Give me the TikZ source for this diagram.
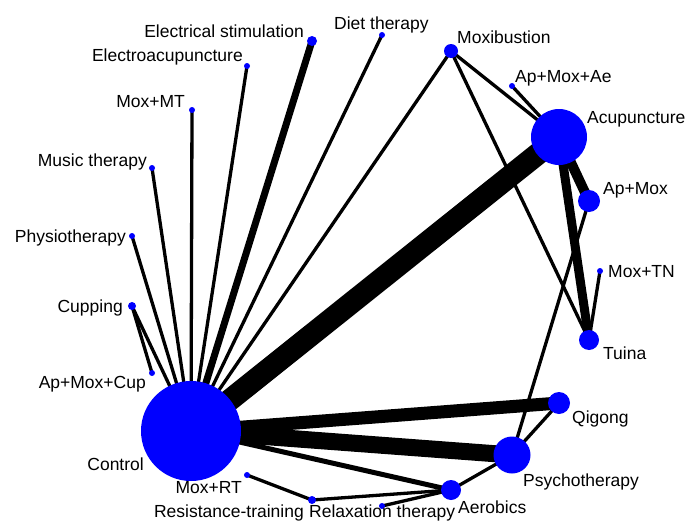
\documentclass[tikz,border=0pt]{standalone}
\usepackage{fontspec}
\setmainfont{Liberation Sans}
\usetikzlibrary{backgrounds}

\begin{document}
\begin{tikzpicture}[x=1pt,y=-1pt,
        trat/.style={circle,fill=blue,inner sep=0pt,minimum size=#1},
        etiq/.style={inner sep=0pt,font=\fontsize{17.5}{21}\selectfont},
        enlace/.style={line width=#1,draw=black}]
        \useasboundingbox (0,0) rectangle (686,522);
        % Nodos (tratamientos)
            \node[trat=100pt] (control) at (191,431) {};
            \node[trat=56pt] (acup) at (559,137) {};
            \node[trat=22pt] (apmox) at (589,201) {};
            \node[trat=14pt] (moxi) at (451,51) {};
            \node[trat=6pt] (apmoxae) at (512,86) {};
            \node[trat=6pt] (dieta) at (382,35) {};
            \node[trat=10pt] (estim) at (312,41) {};
            \node[trat=6pt] (electro) at (247,66) {};
            \node[trat=6pt] (moxmt) at (192,110) {};
            \node[trat=6pt] (musica) at (152,168) {};
            \node[trat=6pt] (fisio) at (132,236) {};
            \node[trat=8pt] (ventosa) at (132,306) {};
            \node[trat=6pt] (apmoxcup) at (152,373) {};
            \node[trat=6pt] (moxrt) at (247,475) {};
            \node[trat=8pt] (resist) at (312,500) {};
            \node[trat=6pt] (relaj) at (382,506) {};
            \node[trat=20pt] (aerob) at (451,490) {};
            \node[trat=37pt] (psico) at (512,455) {};
            \node[trat=22pt] (qigong) at (559,403) {};
            \node[trat=20pt] (tuina) at (589,340) {};
            \node[trat=6pt] (moxtn) at (600,271) {};

            % Etiquetas
            \node[etiq,anchor=base east] (t-control) at (144,470) {Control};
            \node[etiq,anchor=base east] (t-estim) at (304,37) {Electrical stimulation};
            \node[etiq,anchor=base west] (t-dieta) at (334,29) {Diet therapy};
            \node[etiq,anchor=base east] (t-electro) at (243,61) {Electroacupuncture};
            \node[etiq,anchor=base east] (t-moxmt) at (185,107) {Mox+MT};
            \node[etiq,anchor=base east] (t-musica) at (147,166) {Music therapy};
            \node[etiq,anchor=base east] (t-fisio) at (126,242) {Physiotherapy};
            \node[etiq,anchor=base east] (t-ventosa) at (123,312) {Cupping};
            \node[etiq,anchor=base east] (t-apmoxcup) at (146,388) {Ap+Mox+Cup};
            \node[etiq,anchor=base east] (t-moxrt) at (242,493) {Mox+RT};
            \node[etiq,anchor=base east] (t-resist) at (304,517) {Resistance-training};
            \node[etiq,anchor=base west] (t-relaj) at (309,517.5) {Relaxation therapy};
            \node[etiq,anchor=base west] (t-aerob) at (458,513) {Aerobics};
            \node[etiq,anchor=base west] (t-psico) at (523,486) {Psychotherapy};
            \node[etiq,anchor=base west] (t-qigong) at (572,423) {Qigong};
            \node[etiq,anchor=base west] (t-tuina) at (603,359) {Tuina};
            \node[etiq,anchor=base west] (t-moxtn) at (608,277) {Mox+TN};
            \node[etiq,anchor=base west] (t-apmox) at (603,194) {Ap+Mox};
            \node[etiq,anchor=base west] (t-acup) at (587,123) {Acupuncture};
            \node[etiq,anchor=base west] (t-apmoxae) at (515,82) {Ap+Mox+Ae};
            \node[etiq,anchor=base west] (t-moxi) at (457,43) {Moxibustion};

            % Conectores
            \begin{scope}[on background layer]
            \draw[enlace=22pt] (control.center) -- (acup.center);
            \draw[enlace=17pt] (control.center) -- (psico.center);
            \draw[enlace=13pt] (control.center) -- (qigong.center);
            \draw[enlace=7pt] (control.center) -- (estim.center);
            \draw[enlace=5pt] (control.center) -- (aerob.center);
            \draw[enlace=10pt] (acup.center) -- (apmox.center);
            \draw[enlace=9pt] (acup.center) -- (tuina.center);
            \foreach \a/\b in {control/dieta, control/electro, control/moxmt,
                    control/musica, control/fisio, control/ventosa, control/moxi,
                    ventosa/apmoxcup, moxi/acup, moxi/tuina, apmoxae/acup,
                    apmox/psico, moxtn/tuina, psico/qigong, psico/aerob,
                    aerob/resist, aerob/relaj, resist/moxrt}
                \draw[enlace=3.3pt] (\a.center) -- (\b.center);
            \end{scope}
        \end{tikzpicture}
\end{document}
